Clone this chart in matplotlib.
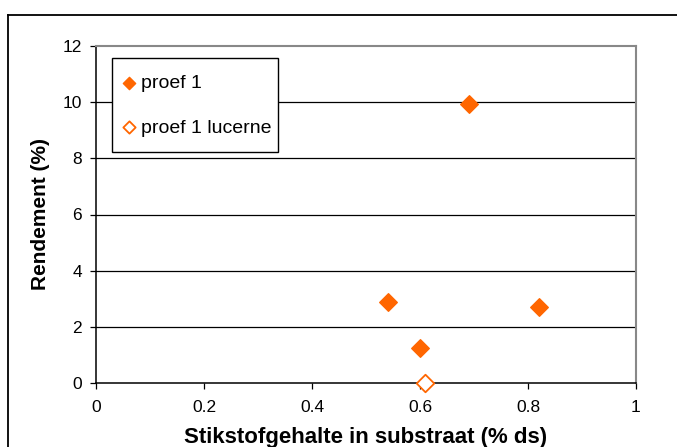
import matplotlib
matplotlib.use("Agg")
import matplotlib.pyplot as plt
from matplotlib.lines import Line2D
from matplotlib.patches import Rectangle

# Trial 1 (filled) and trial 1 lucerne (open)
proef1_x = [0.54, 0.60, 0.69, 0.82]
proef1_y = [2.9, 1.25, 9.95, 2.7]
lucerne_x = [0.61]
lucerne_y = [0.0]

x_ticks = [0, 0.2, 0.4, 0.6, 0.8, 1]
x_tick_labels = ["0", "0.2", "0.4", "0.6", "0.8", "1"]
y_ticks = [0, 2, 4, 6, 8, 10, 12]

orange = "#FF6600"


def main():
  plt.rcParams["font.family"] = ["Liberation Sans", "DejaVu Sans"]

  fig = plt.figure(figsize=(6.77, 4.47), dpi=100)
  ax = fig.add_axes([96 / 677, 1 - 383 / 447, 540 / 677, 337 / 447])

  # Outer frame (only top and left visible in the crop).
  fig.add_artist(Line2D([8 / 677, 8 / 677], [0, 1 - 15 / 447], color="black", lw=1.3, transform=fig.transFigure))
  fig.add_artist(Line2D([8 / 677, 1], [1 - 15 / 447, 1 - 15 / 447], color="black", lw=1.3, transform=fig.transFigure))

  for y in y_ticks[1:-1]:
    ax.axhline(y, color="black", lw=0.9, zorder=1)

  ax.scatter(proef1_x, proef1_y, marker="D", s=80, color=orange, edgecolors=orange, zorder=3, label="proef 1")
  ax.scatter(lucerne_x, lucerne_y, marker="D", s=80, facecolors="white", edgecolors=orange, linewidths=1.3,
             zorder=3, label="proef 1 lucerne", clip_on=False)

  ax.set_xlim(0, 1)
  ax.set_ylim(0, 12)
  ax.set_xticks(x_ticks)
  ax.set_xticklabels(x_tick_labels)
  ax.set_yticks(y_ticks)
  ax.tick_params(axis="both", direction="out", length=4, width=0.9, labelsize=12.5)
  ax.tick_params(axis="x", pad=8)
  ax.tick_params(axis="y", pad=6)

  for side in ["top", "right"]:
    ax.spines[side].set_color("#888888")
    ax.spines[side].set_linewidth(1.5)
  for side in ["left", "bottom"]:
    ax.spines[side].set_color("black")
    ax.spines[side].set_linewidth(1.1)

  ax.set_xlabel("Stikstofgehalte in substraat (% ds)", fontsize=16, fontweight="bold")
  ax.set_ylabel("Rendement (%)", fontsize=15, fontweight="bold")
  ax.xaxis.set_label_coords(0.5, -0.132)
  ax.yaxis.set_label_coords(-0.085, 0.5)

  # Legend box drawn separately so its size can follow the original.
  ax.add_patch(Rectangle((16 / 540, 1 - 106 / 337), 166 / 540, 94 / 337, transform=ax.transAxes,
                         facecolor="white", edgecolor="black", lw=1.0, zorder=4))
  ax.legend(loc="upper left", bbox_to_anchor=(16 / 540, 1 - 18 / 337), frameon=False,
            fontsize=14, handletextpad=0.35, labelspacing=1.37, borderpad=0.55,
            handlelength=0.6, markerscale=0.7, borderaxespad=0).set_zorder(5)

  fig.savefig("out.png", dpi=100)


if __name__ == "__main__":
  main()
